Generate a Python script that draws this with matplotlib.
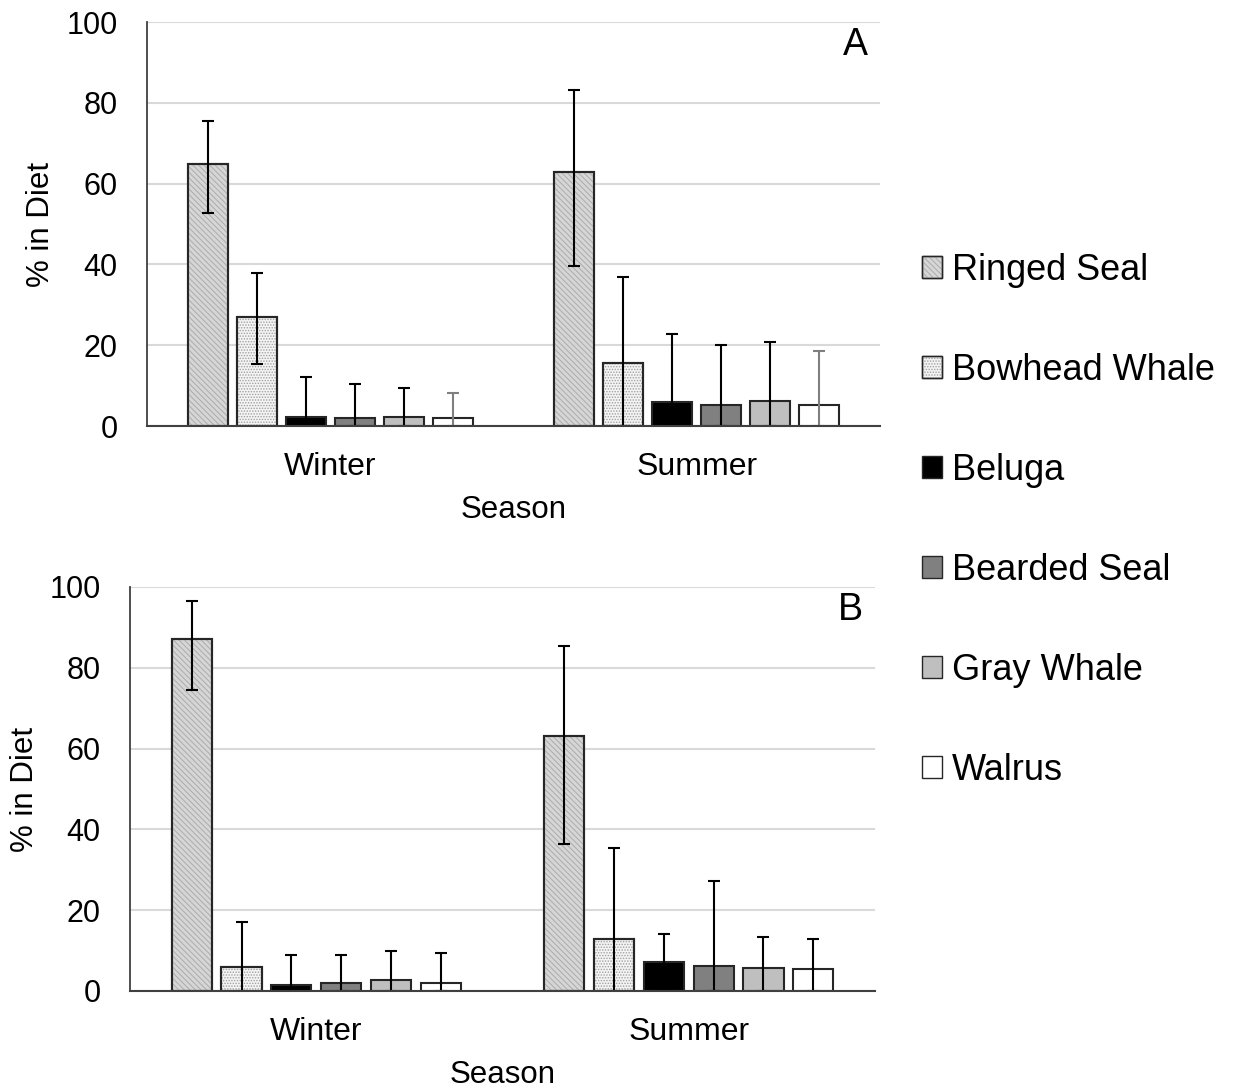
import matplotlib
matplotlib.use("Agg")
import matplotlib.pyplot as plt
import numpy as np
from matplotlib.patches import Patch

plt.rcParams["font.family"] = ["Liberation Sans", "DejaVu Sans"]
plt.rcParams["hatch.linewidth"] = 0.7

seasons = ["Winter", "Summer"]
species = ["Ringed Seal", "Bowhead Whale", "Beluga", "Bearded Seal", "Gray Whale", "Walrus"]

# panel A: mean % in diet and error bar extents (above / below the mean)
a_winter = [64.9, 27.1, 2.3, 1.9, 2.3, 1.9]
a_winter_plus = [10.7, 10.7, 9.8, 8.6, 7.1, 6.2]
a_winter_minus = [12.2, 11.8, 2.3, 1.9, 2.3, 1.9]
a_summer = [62.8, 15.7, 5.9, 5.1, 6.3, 5.1]
a_summer_plus = [20.4, 21.2, 16.9, 14.9, 14.5, 13.4]
a_summer_minus = [23.1, 15.7, 5.9, 5.1, 6.3, 5.1]

# panel B
b_winter = [87.2, 5.9, 1.6, 1.9, 2.7, 1.9]
b_winter_plus = [9.3, 11.3, 7.4, 7.1, 7.1, 7.5]
b_winter_minus = [12.8, 5.9, 1.6, 1.9, 2.7, 1.9]
b_summer = [63.1, 12.8, 7.1, 6.2, 5.8, 5.5]
b_summer_plus = [22.3, 22.7, 6.9, 21.1, 7.5, 7.3]
b_summer_minus = [26.8, 12.8, 7.1, 6.2, 5.8, 5.5]

# fill, hatch, hatch colour per species
fills = ["#d6d6d6", "#f4f4f4", "#000000", "#808080", "#bfbfbf", "#ffffff"]
hatches = ["\\\\\\\\\\\\", "......", None, None, None, None]
hatch_cols = ["#ababab", "#a0a0a0", None, None, None, None]

EDGE = "#262626"
STEP = 0.1337
WIDTH = 0.108


def panel(ax, means, plus, minus, tag, err_cols):
    x = np.arange(len(seasons))
    handles = []
    for i, name in enumerate(species):
        xs = x + (i - 2.5) * STEP
        vals = [m[i] for m in means]
        ax.bar(xs, vals, WIDTH, color=fills[i], edgecolor=EDGE,
               linewidth=1.5, zorder=2)
        if hatches[i]:
            # hatch drawn as its own layer so it can be lighter than the outline
            ax.bar(xs, vals, WIDTH, color="none", edgecolor=hatch_cols[i],
                   hatch=hatches[i], linewidth=0, zorder=2.5)
            ax.bar(xs, vals, WIDTH, color="none", edgecolor=EDGE,
                   linewidth=1.5, zorder=2.6)
            h = (Patch(facecolor=fills[i], edgecolor=EDGE, linewidth=1.0),
                 Patch(facecolor="none", edgecolor=hatch_cols[i],
                       hatch=hatches[i], linewidth=0),
                 Patch(facecolor="none", edgecolor=EDGE, linewidth=1.0))
        else:
            h = Patch(facecolor=fills[i], edgecolor=EDGE, linewidth=1.0)
        handles.append(h)
        yerr = [[m[i] for m in minus], [p[i] for p in plus]]
        ax.errorbar(xs, vals, yerr=yerr, fmt="none", ecolor=err_cols[i],
                    elinewidth=1.5, capsize=4, capthick=1.5, zorder=3)

    ax.set_xlim(-0.5, 1.5)
    ax.set_ylim(0, 100)
    ax.set_yticks(np.arange(0, 101, 20))
    ax.set_xticks(x)
    ax.set_xticklabels(seasons)
    ax.tick_params(axis="both", length=0)
    ax.tick_params(axis="x", pad=19, labelsize=23)
    ax.tick_params(axis="y", pad=21, labelsize=22)
    ax.yaxis.grid(True, color="#d9d9d9", linewidth=1.5, zorder=0)
    ax.set_axisbelow(True)
    for s in ("top", "right"):
        ax.spines[s].set_visible(False)
    ax.spines["left"].set_color("#404040")
    ax.spines["left"].set_linewidth(1.3)
    ax.spines["bottom"].set_color("#404040")
    ax.spines["bottom"].set_linewidth(1.5)
    ax.spines["bottom"].set_zorder(4)

    ax.set_xlabel("Season", fontsize=22.5)
    ax.xaxis.set_label_coords(0.5, -0.171)
    ax.set_ylabel("% in Diet", fontsize=22.5)
    ax.yaxis.label.set_va("center")
    ax.text(0.967, 0.944, tag, transform=ax.transAxes, fontsize=27,
            ha="center", va="center")
    return handles


fig = plt.figure(figsize=(12.33, 10.89), dpi=100)
ax_a = fig.add_axes([147 / 1233, 1 - 426 / 1089, 733 / 1233, 404 / 1089])
ax_b = fig.add_axes([130 / 1233, 1 - 991 / 1089, 745 / 1233, 404 / 1089])

err_a = ["black"] * 5 + ["#7f7f7f"]
err_b = ["black"] * 6

handles = panel(ax_a, [a_winter, a_summer], [a_winter_plus, a_summer_plus],
                [a_winter_minus, a_summer_minus], "A", err_a)
panel(ax_b, [b_winter, b_summer], [b_winter_plus, b_summer_plus],
      [b_winter_minus, b_summer_minus], "B", err_b)
ax_a.yaxis.set_label_coords(-0.144, 0.5)
ax_b.yaxis.set_label_coords(-0.141, 0.5)

fig.legend(handles, species, loc="center left",
           bbox_to_anchor=(922 / 1233, 1 - 520 / 1089),
           frameon=False, fontsize=26, handlelength=0.55, handleheight=0.55,
           handletextpad=0.28, labelspacing=1.8, borderpad=0, borderaxespad=0)

fig.savefig("out.png", dpi=100, facecolor="white")
